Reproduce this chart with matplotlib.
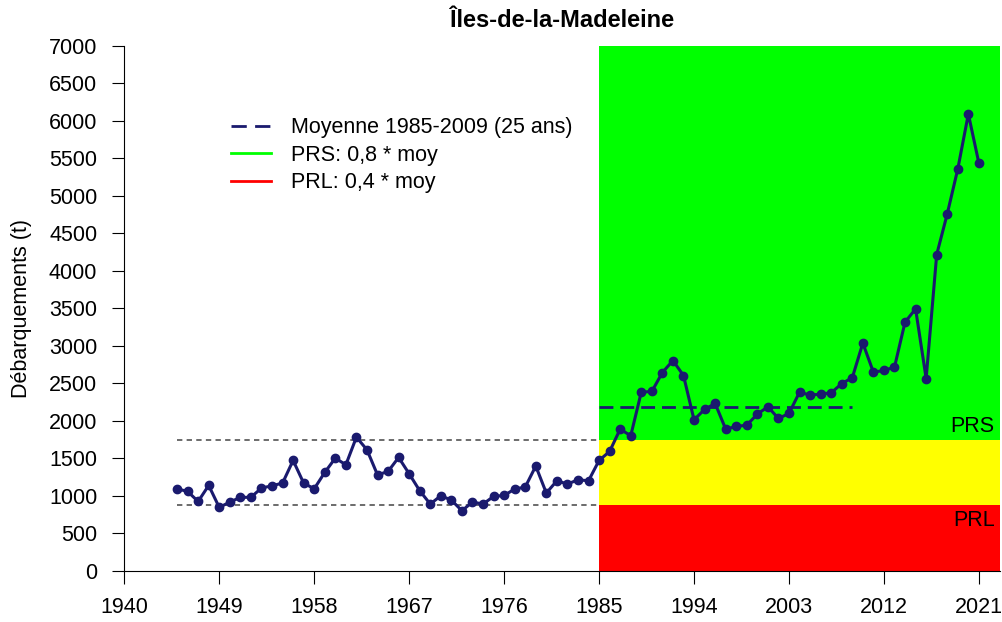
import numpy as np
import matplotlib
matplotlib.use("Agg")
import matplotlib.pyplot as plt
from matplotlib.lines import Line2D

plt.rcParams['font.family'] = ['Liberation Sans', 'DejaVu Sans']

# débarquements annuels (t)
annees = list(range(1945, 2022))
debarquements = [
    1093, 1057, 924, 1138, 844, 916, 978, 980, 1102, 1133,   # 1945-1954
    1169, 1471, 1169, 1093, 1311, 1502, 1413, 1782, 1613, 1278,  # 1955-1964
    1324, 1511, 1293, 1067, 889, 1000, 942, 800, 916, 889,   # 1965-1974
    991, 1004, 1089, 1116, 1396, 1036, 1200, 1156, 1213, 1200,  # 1975-1984
    1471, 1591, 1889, 1800, 2382, 2391, 2644, 2804, 2604, 2013,  # 1985-1994
    2152, 2231, 1889, 1924, 1942, 2089, 2187, 2031, 2098, 2382,  # 1995-2004
    2342, 2356, 2373, 2496, 2575, 3036, 2649, 2671, 2716, 3316,  # 2005-2014
    3493, 2564, 4218, 4760, 5360, 6093, 5436,                    # 2015-2021
]

periode_ref = (1985, 2009)
x_min, x_max = 1940, 2023
y_max = 7000
xticks = list(range(1940, 2022, 9))
yticks = list(range(0, 7001, 500))

annees = np.array(annees)
debarquements = np.array(debarquements, dtype=float)
sel = (annees >= periode_ref[0]) & (annees <= periode_ref[1])
moy = debarquements[sel].mean()
prs = 0.8 * moy
prl = 0.4 * moy

fs = 15.5

fig = plt.figure(figsize=(10.03, 6.22), dpi=100)
ax = fig.add_axes([124.3 / 1003, 1 - 570.7 / 622, 875.7 / 1003, 524.7 / 622])

# zones
ax.fill_between([periode_ref[0], x_max], 0, prl, color='#ff0000', lw=0, zorder=1)
ax.fill_between([periode_ref[0], x_max], prl, prs, color='#ffff00', lw=0, zorder=1)
ax.fill_between([periode_ref[0], x_max], prs, y_max, color='#00ff00', lw=0, zorder=1)

# lignes PRS / PRL avant 1985
for niveau in (prs, prl):
    ax.plot([annees[0], periode_ref[0]], [niveau, niveau], color='#444444',
            lw=1.1, dashes=(3.5, 2.8), zorder=2)

# moyenne
ax.plot(list(periode_ref), [moy, moy], color='#1a1a6e', lw=2.0,
        dashes=(5, 2.5), zorder=3)

# série
ax.plot(annees, debarquements, color='#1a1a6e', lw=2.2, marker='o',
        markersize=6, zorder=4)

ax.text(2022.5, prs + 30, 'PRS', ha='right', va='bottom', fontsize=fs, zorder=5)
ax.text(2022.5, prl - 70, 'PRL', ha='right', va='top', fontsize=fs, zorder=5)

ax.set_xlim(x_min, x_max)
ax.set_ylim(0, y_max)
ax.set_xticks(xticks)
ax.set_yticks(yticks)
ax.tick_params(direction='out', length=9, width=0.8, labelsize=fs, pad=10)
ax.tick_params(axis='y', pad=10.5)
for s in ('top', 'right'):
    ax.spines[s].set_visible(False)
for s in ('left', 'bottom'):
    ax.spines[s].set_linewidth(0.8)
    ax.spines[s].set_zorder(6)

ax.set_ylabel('Débarquements (t)', fontsize=fs, labelpad=12)
ax.set_title('Îles-de-la-Madeleine', fontsize=17, fontweight='bold', pad=14)

handles = [
    Line2D([], [], color='#1a1a6e', lw=2.0, dashes=(5.5, 3)),
    Line2D([], [], color='#00ff00', lw=2.0),
    Line2D([], [], color='#ff0000', lw=2.0),
]
labels = ['Moyenne 1985-2009 (25 ans)', 'PRS: 0,8 * moy', 'PRL: 0,4 * moy']
ax.legend(handles, labels, loc='upper left', bbox_to_anchor=(0.122, 0.864),
          frameon=False, fontsize=fs, handlelength=1.86, handletextpad=0.93,
          labelspacing=0.3, borderpad=0, borderaxespad=0)

fig.savefig('out.png', dpi=100)
